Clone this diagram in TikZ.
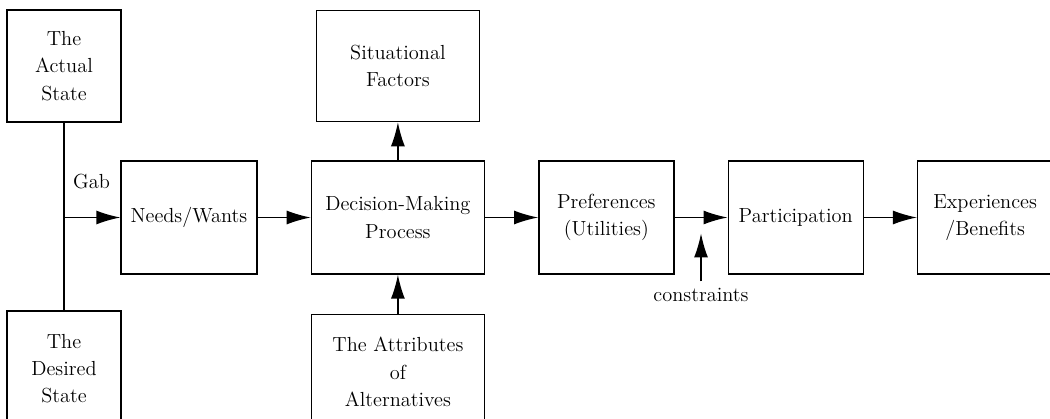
\documentclass[tikz,border=0pt]{standalone}
\usepackage{tikz}
\usetikzlibrary{arrows.meta, positioning, calc}

\begin{document}
\begin{tikzpicture}[node distance=1.06cm,
  box/.style={rectangle, draw, line width=0.8pt, minimum width=2.7cm, minimum height=2.26cm, align=center, font=\fontsize{11.6}{15.5}\selectfont},
  lbl/.style={font=\fontsize{11.6}{14}\selectfont},
  arr/.style={-{Latex[length=4.8mm, width=2.8mm]}, line width=0.8pt}
]
\useasboundingbox (0,0) rectangle (21,-8.38);
\node[box, minimum width=2.28cm, minimum height=2.24cm] (actual) at (1.28,-1.32) {The\\Actual\\State};
\node[box, minimum width=2.28cm, minimum height=2.3cm] (desired) at (1.28,-7.37) {The\\Desired\\State};
\node[box, minimum width=2.72cm] (needs) at (3.78,-4.35) {Needs/Wants};
\node[box, right=of needs, minimum width=3.46cm] (dmp) {Decision-Making\\Process};
\node[box, above=0.76cm of dmp, minimum width=3.26cm, minimum height=2.22cm] (sit) {Situational\\Factors};
\node[box, below=0.78cm of dmp, minimum width=3.46cm, minimum height=2.3cm] (attr) {The Attributes\\of\\Alternatives};
\node[box, right=of dmp] (pref) {Preferences\\(Utilities)};
\node[box, right=of pref] (part) {Participation};
\node[box, right=of part] (exp) {Experiences\\/Benefits};
\coordinate (gap) at (actual.south |- needs.west);
\coordinate (ctip) at ($(pref.east)!0.5!(part.west)+(0,-0.32)$);
\draw[line width=0.8pt] (actual) -- (desired);
\draw[arr] (gap) -- (needs);
\draw[arr] (needs) -- (dmp);
\draw[arr] (dmp) -- (sit);
\draw[arr] (attr) -- (dmp);
\draw[arr] (dmp) -- (pref);
\draw[arr] (pref) -- (part);
\draw[arr] (part) -- (exp);
% Labels
\node[lbl, above right=0.45cm and 0.06cm of gap] (gab) {Gab};
\node[lbl, below=0.96cm of ctip] (cons) {constraints};
\draw[arr] (cons) -- (ctip);
\end{tikzpicture}
\end{document}
